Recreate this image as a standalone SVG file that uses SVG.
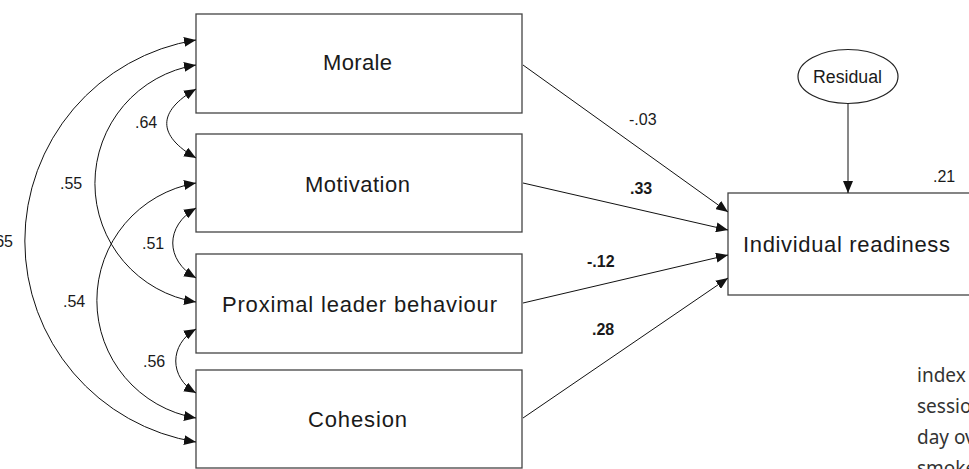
<svg xmlns="http://www.w3.org/2000/svg" width="969" height="469" viewBox="0 0 969 469">
<style>
.box{fill:#fff;stroke:#444;stroke-width:1.3}
.lbl{font-family:"Liberation Sans",Arial,sans-serif;font-size:22px;fill:#1a1a1a}
.coef{font-family:"Liberation Sans",Arial,sans-serif;font-size:16px;fill:#1a1a1a}
.b{font-weight:bold}
.con{fill:none;stroke:#111;stroke-width:1}
.side{font-family:"Noto Sans","Open Sans",sans-serif;font-size:19px;fill:#333}
</style>
<defs>
<marker id="ah" markerUnits="userSpaceOnUse" markerWidth="12" markerHeight="10" refX="12" refY="5" orient="auto-start-reverse">
<path d="M0,0 L12,5 L0,10 z" fill="#111"/>
</marker>
</defs>
<rect width="969" height="469" fill="#fff"/>
<g id="morale"><rect class="box" x="196" y="14" width="326" height="99"/><text class="lbl" x="323" y="70" textLength="69" lengthAdjust="spacing">Morale</text></g>
<g id="motivation"><rect class="box" x="196" y="134" width="326" height="98"/><text class="lbl" x="305" y="192" textLength="105" lengthAdjust="spacing">Motivation</text></g>
<g id="proximal"><rect class="box" x="196" y="254" width="326" height="99"/><text class="lbl" x="222" y="312" textLength="275" lengthAdjust="spacing">Proximal leader behaviour</text></g>
<g id="cohesion"><rect class="box" x="196" y="370" width="326" height="98"/><text class="lbl" x="308" y="427" textLength="99" lengthAdjust="spacing">Cohesion</text></g>
<g id="readiness"><rect class="box" x="728" y="193" width="300" height="102"/><text class="lbl" x="743" y="252" textLength="207" lengthAdjust="spacing">Individual readiness</text><text class="coef" x="933" y="182">.21</text></g>
<g id="residual"><ellipse cx="848" cy="76.5" rx="50" ry="27" fill="#fff" stroke="#222" stroke-width="1.2"/><text class="lbl" x="813" y="83" style="font-size:18px" textLength="69" lengthAdjust="spacingAndGlyphs">Residual</text></g>
<g id="connectors">
<path class="con" d="M196,40 A203.6,203.6 0 0 0 196,442" marker-start="url(#ah)" marker-end="url(#ah)"/>
<path class="con" d="M196,65 A120,120 0 0 0 196,302" marker-start="url(#ah)" marker-end="url(#ah)"/>
<path class="con" d="M196,183 A119.2,119.2 0 0 0 196,418" marker-start="url(#ah)" marker-end="url(#ah)"/>
<path class="con" d="M196,89 C157,111.6 157,135.4 196,158" marker-start="url(#ah)" marker-end="url(#ah)"/>
<path class="con" d="M196,208 C165,226 165,260 196,278" marker-start="url(#ah)" marker-end="url(#ah)"/>
<path class="con" d="M196,329 C169,344.5 169,377.5 196,393" marker-start="url(#ah)" marker-end="url(#ah)"/>
<path class="con" d="M523,65 L728,212" marker-end="url(#ah)"/>
<path class="con" d="M523,183 L728,230" marker-end="url(#ah)"/>
<path class="con" d="M523,303 L728,255" marker-end="url(#ah)"/>
<path class="con" d="M523,418 L728,278" marker-end="url(#ah)"/>
<path class="con" d="M848,103.5 L848,193" marker-end="url(#ah)"/>
</g>
<g id="labels">
<text class="coef" x="13" y="247" text-anchor="end">.65</text>
<text class="coef" x="60" y="189">.55</text>
<text class="coef" x="135" y="128">.64</text>
<text class="coef" x="63" y="307">.54</text>
<text class="coef" x="142" y="249">.51</text>
<text class="coef" x="143" y="367">.56</text>
<text class="coef" x="629" y="125">-.03</text>
<text class="coef b" x="630" y="194">.33</text>
<text class="coef b" x="587" y="267">-.12</text>
<text class="coef b" x="592" y="335">.28</text>
</g>
<g id="sidetext">
<text class="side" x="917" y="382">index</text>
<text class="side" x="917" y="413">sessio</text>
<text class="side" x="917" y="444">day ov</text>
<text class="side" x="917" y="475">smoke</text>
</g>
</svg>
